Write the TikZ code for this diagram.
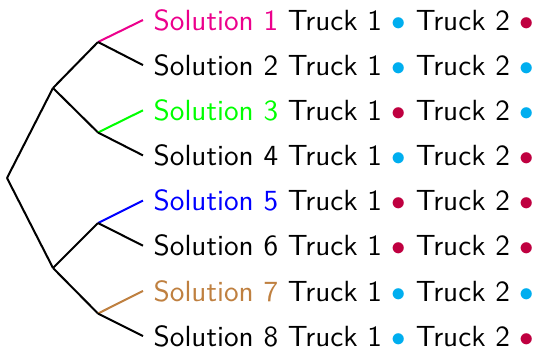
\documentclass[tikz,border=0pt]{standalone}
\usepackage{xcolor}
\definecolor{solmag}{RGB}{236,0,140}
\definecolor{solgreen}{RGB}{0,255,0}
\definecolor{solblue}{RGB}{0,0,255}
\definecolor{solbrown}{RGB}{191,128,64}
\definecolor{dotcyan}{RGB}{0,174,239}
\definecolor{dotred}{RGB}{191,0,64}
\newcommand{\cyandot}{\textcolor{dotcyan}{$\bullet$}}
\newcommand{\reddot}{\textcolor{dotred}{$\bullet$}}
\begin{document}
\begin{tikzpicture}[x=0.346pt,y=-0.346pt,
  branch/.style={line width=0.7pt},
  leaf/.style={anchor=west,font=\sffamily\fontsize{10.1}{12}\selectfont,inner sep=3.5pt}]
\useasboundingbox (0,0) rectangle (534,348);
% inner tree points
\coordinate (r) at (7,178);
\coordinate (a) at (53,88);
\coordinate (b) at (53,268);
\coordinate (a1) at (98,42);
\coordinate (a2) at (98,132.5);
\coordinate (b1) at (98,223);
\coordinate (b2) at (98,313.5);
% leaves
\node[leaf] (s1) at (143,20) {\textcolor{solmag}{Solution 1} Truck 1 \cyandot{} Truck 2 \reddot};
\node[leaf] (s2) at (143,65.1) {Solution 2 Truck 1 \cyandot{} Truck 2 \cyandot};
\node[leaf] (s3) at (143,110.3) {\textcolor{solgreen}{Solution 3} Truck 1 \reddot{} Truck 2 \cyandot};
\node[leaf] (s4) at (143,155.4) {Solution 4 Truck 1 \cyandot{} Truck 2 \reddot};
\node[leaf] (s5) at (143,200.6) {\textcolor{solblue}{Solution 5} Truck 1 \reddot{} Truck 2 \reddot};
\node[leaf] (s6) at (143,245.7) {Solution 6 Truck 1 \reddot{} Truck 2 \reddot};
\node[leaf] (s7) at (143,290.9) {\textcolor{solbrown}{Solution 7} Truck 1 \cyandot{} Truck 2 \cyandot};
\node[leaf] (s8) at (143,336) {Solution 8 Truck 1 \cyandot{} Truck 2 \reddot};
% branches
\draw[branch] (r) -- (a);
\draw[branch] (r) -- (b);
\draw[branch] (a) -- (a1);
\draw[branch] (a) -- (a2);
\draw[branch] (b) -- (b1);
\draw[branch] (b) -- (b2);
\draw[branch,solmag] (a1) -- (s1.west);
\draw[branch] (a1) -- (s2.west);
\draw[branch,solgreen] (a2) -- (s3.west);
\draw[branch] (a2) -- (s4.west);
\draw[branch,solblue] (b1) -- (s5.west);
\draw[branch] (b1) -- (s6.west);
\draw[branch,solbrown] (b2) -- (s7.west);
\draw[branch] (b2) -- (s8.west);
\end{tikzpicture}
\end{document}
